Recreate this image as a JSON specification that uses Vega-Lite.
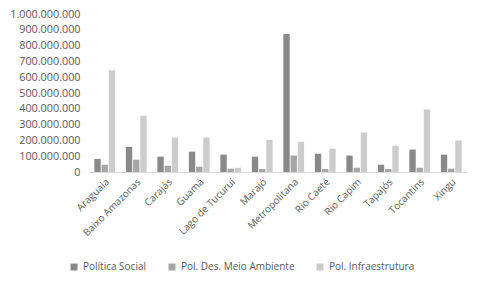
{
  "$schema": "https://vega.github.io/schema/vega-lite/v6.json",
  "autosize": "none",
  "width": 378,
  "height": 158,
  "padding": {"left": 89, "top": 14, "right": 17, "bottom": 116},
  "background": "white",
  "config": {
    "locale": {"number": {"decimal": ",", "thousands": ".", "grouping": [3], "currency": ["R$", ""]}},
    "view": {"stroke": null},
    "font": "Open Sans"
  },
  "data": {
    "values": [
      {"regiao": "Araguaia", "serie": "Política Social", "valor": 83000000},
      {"regiao": "Araguaia", "serie": "Pol. Des. Meio Ambiente", "valor": 46000000},
      {"regiao": "Araguaia", "serie": "Pol. Infraestrutura", "valor": 644000000},
      {"regiao": "Baixo Amazonas", "serie": "Política Social", "valor": 159000000},
      {"regiao": "Baixo Amazonas", "serie": "Pol. Des. Meio Ambiente", "valor": 78000000},
      {"regiao": "Baixo Amazonas", "serie": "Pol. Infraestrutura", "valor": 356000000},
      {"regiao": "Carajás", "serie": "Política Social", "valor": 97000000},
      {"regiao": "Carajás", "serie": "Pol. Des. Meio Ambiente", "valor": 40000000},
      {"regiao": "Carajás", "serie": "Pol. Infraestrutura", "valor": 218000000},
      {"regiao": "Guamá", "serie": "Política Social", "valor": 129000000},
      {"regiao": "Guamá", "serie": "Pol. Des. Meio Ambiente", "valor": 34000000},
      {"regiao": "Guamá", "serie": "Pol. Infraestrutura", "valor": 218000000},
      {"regiao": "Lago de Tucuruí", "serie": "Política Social", "valor": 110000000},
      {"regiao": "Lago de Tucuruí", "serie": "Pol. Des. Meio Ambiente", "valor": 21000000},
      {"regiao": "Lago de Tucuruí", "serie": "Pol. Infraestrutura", "valor": 27000000},
      {"regiao": "Marajó", "serie": "Política Social", "valor": 97000000},
      {"regiao": "Marajó", "serie": "Pol. Des. Meio Ambiente", "valor": 19000000},
      {"regiao": "Marajó", "serie": "Pol. Infraestrutura", "valor": 203000000},
      {"regiao": "Metropolitana", "serie": "Política Social", "valor": 873000000},
      {"regiao": "Metropolitana", "serie": "Pol. Des. Meio Ambiente", "valor": 104000000},
      {"regiao": "Metropolitana", "serie": "Pol. Infraestrutura", "valor": 191000000},
      {"regiao": "Rio Caeté", "serie": "Política Social", "valor": 116000000},
      {"regiao": "Rio Caeté", "serie": "Pol. Des. Meio Ambiente", "valor": 19000000},
      {"regiao": "Rio Caeté", "serie": "Pol. Infraestrutura", "valor": 148000000},
      {"regiao": "Rio Capim", "serie": "Política Social", "valor": 104000000},
      {"regiao": "Rio Capim", "serie": "Pol. Des. Meio Ambiente", "valor": 27000000},
      {"regiao": "Rio Capim", "serie": "Pol. Infraestrutura", "valor": 250000000},
      {"regiao": "Tapajós", "serie": "Política Social", "valor": 46000000},
      {"regiao": "Tapajós", "serie": "Pol. Des. Meio Ambiente", "valor": 19000000},
      {"regiao": "Tapajós", "serie": "Pol. Infraestrutura", "valor": 167000000},
      {"regiao": "Tocantins", "serie": "Política Social", "valor": 142000000},
      {"regiao": "Tocantins", "serie": "Pol. Des. Meio Ambiente", "valor": 27000000},
      {"regiao": "Tocantins", "serie": "Pol. Infraestrutura", "valor": 396000000},
      {"regiao": "Xingu", "serie": "Política Social", "valor": 110000000},
      {"regiao": "Xingu", "serie": "Pol. Des. Meio Ambiente", "valor": 21000000},
      {"regiao": "Xingu", "serie": "Pol. Infraestrutura", "valor": 199000000}
    ]
  },
  "mark": {"type": "bar"},
  "encoding": {
    "x": {
      "field": "regiao", "type": "nominal", "sort": null, "title": null,
      "scale": {"paddingInner": 0.34, "paddingOuter": 0.17},
      "axis": {"labelAngle": -45, "labelAlign": "right", "labelBaseline": "middle", "labelColor": "#595959", "labelFontSize": 10, "labelPadding": 8, "labelOffset": 3, "ticks": false, "domainColor": "#d9d9d9", "domainWidth": 1, "grid": false}
    },
    "xOffset": {"field": "serie", "type": "nominal", "sort": ["Política Social", "Pol. Des. Meio Ambiente", "Pol. Infraestrutura"], "scale": {"paddingInner": 0.12}},
    "y": {
      "field": "valor", "type": "quantitative", "title": null,
      "scale": {"domain": [0, 1000000000], "nice": false},
      "axis": {"values": [0, 100000000, 200000000, 300000000, 400000000, 500000000, 600000000, 700000000, 800000000, 900000000, 1000000000], "format": ",d", "grid": false, "domain": false, "ticks": false, "labelColor": "#595959", "labelFontSize": 10.8, "labelPadding": 9}
    },
    "color": {
      "field": "serie", "type": "nominal", "sort": ["Política Social", "Pol. Des. Meio Ambiente", "Pol. Infraestrutura"], "title": null,
      "scale": {"domain": ["Política Social", "Pol. Des. Meio Ambiente", "Pol. Infraestrutura"], "range": ["#898989", "#a6a6a6", "#cccccc"]},
      "legend": {"orient": "none", "legendX": -20, "legendY": 248, "direction": "horizontal", "symbolType": "square", "symbolSize": 49, "symbolStrokeWidth": 0, "labelColor": "#595959", "labelFontSize": 10, "columnPadding": 20, "symbolOffset": 0}
    }
  }
}
